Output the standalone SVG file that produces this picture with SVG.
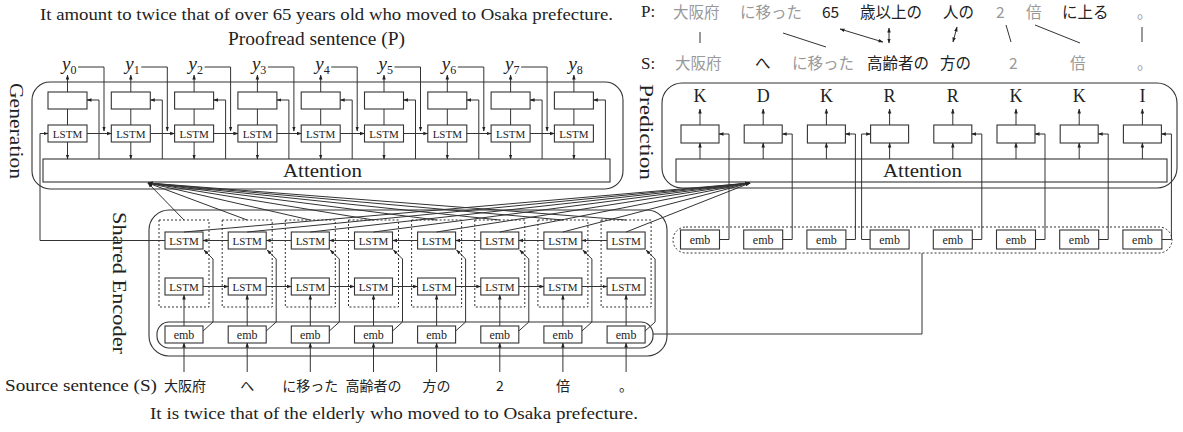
<svg xmlns="http://www.w3.org/2000/svg" width="1183" height="432" viewBox="0 0 1183 432">
<defs>
<marker id="a" viewBox="0 0 10 10" refX="9" refY="5" markerWidth="5" markerHeight="5" orient="auto-start-reverse" markerUnits="userSpaceOnUse"><path d="M0,1.5L10,5L0,8.5z" fill="#222"/></marker>
</defs>
<style>
text{font-family:"Liberation Serif","Times New Roman",serif;fill:#222}
.j{font-family:"Noto Sans CJK JP","Noto Sans",sans-serif;font-size:15.5px}
.js{font-family:"Noto Sans CJK JP","Noto Sans",sans-serif;font-size:14px;text-anchor:middle}
.g{fill:#999}
.box{fill:#fff;stroke:#333;stroke-width:1.1}
.cont{fill:none;stroke:#333;stroke-width:1.1}
.dot{fill:none;stroke:#333;stroke-width:1;stroke-dasharray:2 2}
#connectors path{fill:none;stroke:#333;stroke-width:1}
#connectors .ar{marker-end:url(#a)}
#connectors .dbl{marker-end:url(#a);marker-start:url(#a)}
.lstm{font-size:11px;text-anchor:middle}
.emb{font-size:12px;text-anchor:middle}
.lab{font-size:18px;text-anchor:middle}
.yl{font-size:19px;font-style:italic}
.sub{font-size:12px;font-style:normal}
.att{font-size:19px;text-anchor:middle}
.side{font-size:19px;text-anchor:middle}
</style>

<g id="titles">
<text x="326.5" y="20" text-anchor="middle" font-size="17" textLength="573" lengthAdjust="spacingAndGlyphs">It amount to twice that of over 65 years old who moved to Osaka prefecture.</text>
<text x="316.5" y="45" text-anchor="middle" font-size="18.5" textLength="177" lengthAdjust="spacingAndGlyphs">Proofread sentence (P)</text>
<text x="394" y="419" text-anchor="middle" font-size="17" textLength="488" lengthAdjust="spacingAndGlyphs">It is twice that of the elderly who moved to to Osaka prefecture.</text>
</g>

<g id="alignment">
<text x="641" y="17" font-size="17">P:</text>
<text x="641" y="69" font-size="17">S:</text>
<text class="j g" x="673" y="18.2">大阪府</text>
<text class="j g" x="740" y="18.2">に移った</text>
<text class="j" x="822" y="18.2">65</text>
<text class="j" x="860" y="18.2">歳以上の</text>
<text class="j" x="943" y="18.2">人の</text>
<text class="j g" x="996" y="18.2">2</text>
<text class="j g" x="1026" y="18.2">倍</text>
<text class="j" x="1062" y="18.2">に上る</text>
<text class="j g" x="1137" y="18.2">。</text>
<text class="j g" x="675" y="69">大阪府</text>
<text class="j" x="755" y="69">へ</text>
<text class="j g" x="792" y="69">に移った</text>
<text class="j" x="867" y="69">高齢者の</text>
<text class="j" x="940" y="69">方の</text>
<text class="j g" x="1009" y="69">2</text>
<text class="j g" x="1070" y="69">倍</text>
<text class="j g" x="1137" y="69">。</text>
</g>

<g id="generation">
<rect class="cont" x="32" y="82" width="591" height="107" rx="18"/>
<text class="side" transform="translate(10,131) rotate(90)" textLength="96" lengthAdjust="spacingAndGlyphs">Generation</text>
</g>
<g id="gen-attention">
<rect class="box" x="43" y="159" width="567" height="23"/>
<text class="att" x="322.5" y="177" textLength="79" lengthAdjust="spacingAndGlyphs">Attention</text>
</g>
<g id="gen0"><rect class="box" x="48" y="92" width="39" height="17"/><rect class="box" x="48" y="125" width="39" height="17"/><text class="lstm" x="67.5" y="137.5">LSTM</text><text class="yl" x="62" y="70">y<tspan class="sub" dy="4">0</tspan></text></g>
<g id="gen1"><rect class="box" x="111.3" y="92" width="39" height="17"/><rect class="box" x="111.3" y="125" width="39" height="17"/><text class="lstm" x="130.8" y="137.5">LSTM</text><text class="yl" x="125.3" y="70">y<tspan class="sub" dy="4">1</tspan></text></g>
<g id="gen2"><rect class="box" x="174.6" y="92" width="39" height="17"/><rect class="box" x="174.6" y="125" width="39" height="17"/><text class="lstm" x="194.1" y="137.5">LSTM</text><text class="yl" x="188.6" y="70">y<tspan class="sub" dy="4">2</tspan></text></g>
<g id="gen3"><rect class="box" x="237.9" y="92" width="39" height="17"/><rect class="box" x="237.9" y="125" width="39" height="17"/><text class="lstm" x="257.4" y="137.5">LSTM</text><text class="yl" x="251.9" y="70">y<tspan class="sub" dy="4">3</tspan></text></g>
<g id="gen4"><rect class="box" x="301.2" y="92" width="39" height="17"/><rect class="box" x="301.2" y="125" width="39" height="17"/><text class="lstm" x="320.7" y="137.5">LSTM</text><text class="yl" x="315.2" y="70">y<tspan class="sub" dy="4">4</tspan></text></g>
<g id="gen5"><rect class="box" x="364.5" y="92" width="39" height="17"/><rect class="box" x="364.5" y="125" width="39" height="17"/><text class="lstm" x="384" y="137.5">LSTM</text><text class="yl" x="378.5" y="70">y<tspan class="sub" dy="4">5</tspan></text></g>
<g id="gen6"><rect class="box" x="427.8" y="92" width="39" height="17"/><rect class="box" x="427.8" y="125" width="39" height="17"/><text class="lstm" x="447.3" y="137.5">LSTM</text><text class="yl" x="441.8" y="70">y<tspan class="sub" dy="4">6</tspan></text></g>
<g id="gen7"><rect class="box" x="491.1" y="92" width="39" height="17"/><rect class="box" x="491.1" y="125" width="39" height="17"/><text class="lstm" x="510.6" y="137.5">LSTM</text><text class="yl" x="505.1" y="70">y<tspan class="sub" dy="4">7</tspan></text></g>
<g id="gen8"><rect class="box" x="554.4" y="92" width="39" height="17"/><rect class="box" x="554.4" y="125" width="39" height="17"/><text class="lstm" x="573.9" y="137.5">LSTM</text><text class="yl" x="568.4" y="70">y<tspan class="sub" dy="4">8</tspan></text></g>

<g id="prediction">
<rect class="cont" x="662" y="83" width="515" height="105" rx="20"/>
<text class="side" transform="translate(640,132) rotate(90)" textLength="96" lengthAdjust="spacingAndGlyphs">Prediction</text>
</g>
<g id="pred-attention">
<rect class="box" x="676" y="159" width="491" height="23"/>
<text class="att" x="922.5" y="177" textLength="79" lengthAdjust="spacingAndGlyphs">Attention</text>
</g>
<g id="pred0"><rect class="box" x="681" y="125" width="38" height="18"/><text class="lab" x="700" y="102">K</text></g>
<g id="pred1"><rect class="box" x="744.2" y="125" width="38" height="18"/><text class="lab" x="763.2" y="102">D</text></g>
<g id="pred2"><rect class="box" x="807.4" y="125" width="38" height="18"/><text class="lab" x="826.4" y="102">K</text></g>
<g id="pred3"><rect class="box" x="870.6" y="125" width="38" height="18"/><text class="lab" x="889.6" y="102">R</text></g>
<g id="pred4"><rect class="box" x="933.8" y="125" width="38" height="18"/><text class="lab" x="952.8" y="102">R</text></g>
<g id="pred5"><rect class="box" x="997" y="125" width="38" height="18"/><text class="lab" x="1016" y="102">K</text></g>
<g id="pred6"><rect class="box" x="1060.2" y="125" width="38" height="18"/><text class="lab" x="1079.2" y="102">K</text></g>
<g id="pred7"><rect class="box" x="1123.4" y="125" width="38" height="18"/><text class="lab" x="1142.4" y="102">I</text></g>

<g id="pred-emb">
<rect class="dot" x="673" y="227" width="499" height="26" rx="13"/>
<rect class="box" x="680.5" y="230" width="39" height="19"/><text class="emb" x="700" y="243.5">emb</text>
<rect class="box" x="743.7" y="230" width="39" height="19"/><text class="emb" x="763.2" y="243.5">emb</text>
<rect class="box" x="806.9" y="230" width="39" height="19"/><text class="emb" x="826.4" y="243.5">emb</text>
<rect class="box" x="870.1" y="230" width="39" height="19"/><text class="emb" x="889.6" y="243.5">emb</text>
<rect class="box" x="933.3" y="230" width="39" height="19"/><text class="emb" x="952.8" y="243.5">emb</text>
<rect class="box" x="996.5" y="230" width="39" height="19"/><text class="emb" x="1016" y="243.5">emb</text>
<rect class="box" x="1059.7" y="230" width="39" height="19"/><text class="emb" x="1079.2" y="243.5">emb</text>
<rect class="box" x="1122.9" y="230" width="39" height="19"/><text class="emb" x="1142.4" y="243.5">emb</text>
</g>

<g id="encoder">
<rect class="cont" x="149" y="210" width="518" height="146" rx="20"/>
<text class="side" transform="translate(113,283) rotate(90)" textLength="142" lengthAdjust="spacingAndGlyphs">Shared Encoder</text>
<rect class="cont" x="157" y="322" width="496" height="26" rx="12"/>
</g>
<g id="enc0"><rect class="dot" x="159" y="220" width="50" height="87"/><rect class="box" x="165" y="232" width="38" height="17"/><text class="lstm" x="184" y="244.5">LSTM</text><rect class="box" x="165" y="278" width="38" height="17"/><text class="lstm" x="184" y="290.5">LSTM</text><rect class="box" x="165" y="326" width="38" height="17"/><text class="emb" x="184" y="338.5">emb</text></g>
<g id="enc1"><rect class="dot" x="222.2" y="220" width="50" height="87"/><rect class="box" x="228.2" y="232" width="38" height="17"/><text class="lstm" x="247.2" y="244.5">LSTM</text><rect class="box" x="228.2" y="278" width="38" height="17"/><text class="lstm" x="247.2" y="290.5">LSTM</text><rect class="box" x="228.2" y="326" width="38" height="17"/><text class="emb" x="247.2" y="338.5">emb</text></g>
<g id="enc2"><rect class="dot" x="285.3" y="220" width="50" height="87"/><rect class="box" x="291.3" y="232" width="38" height="17"/><text class="lstm" x="310.3" y="244.5">LSTM</text><rect class="box" x="291.3" y="278" width="38" height="17"/><text class="lstm" x="310.3" y="290.5">LSTM</text><rect class="box" x="291.3" y="326" width="38" height="17"/><text class="emb" x="310.3" y="338.5">emb</text></g>
<g id="enc3"><rect class="dot" x="348.5" y="220" width="50" height="87"/><rect class="box" x="354.5" y="232" width="38" height="17"/><text class="lstm" x="373.5" y="244.5">LSTM</text><rect class="box" x="354.5" y="278" width="38" height="17"/><text class="lstm" x="373.5" y="290.5">LSTM</text><rect class="box" x="354.5" y="326" width="38" height="17"/><text class="emb" x="373.5" y="338.5">emb</text></g>
<g id="enc4"><rect class="dot" x="411.6" y="220" width="50" height="87"/><rect class="box" x="417.6" y="232" width="38" height="17"/><text class="lstm" x="436.6" y="244.5">LSTM</text><rect class="box" x="417.6" y="278" width="38" height="17"/><text class="lstm" x="436.6" y="290.5">LSTM</text><rect class="box" x="417.6" y="326" width="38" height="17"/><text class="emb" x="436.6" y="338.5">emb</text></g>
<g id="enc5"><rect class="dot" x="474.8" y="220" width="50" height="87"/><rect class="box" x="480.8" y="232" width="38" height="17"/><text class="lstm" x="499.8" y="244.5">LSTM</text><rect class="box" x="480.8" y="278" width="38" height="17"/><text class="lstm" x="499.8" y="290.5">LSTM</text><rect class="box" x="480.8" y="326" width="38" height="17"/><text class="emb" x="499.8" y="338.5">emb</text></g>
<g id="enc6"><rect class="dot" x="537.9" y="220" width="50" height="87"/><rect class="box" x="543.9" y="232" width="38" height="17"/><text class="lstm" x="562.9" y="244.5">LSTM</text><rect class="box" x="543.9" y="278" width="38" height="17"/><text class="lstm" x="562.9" y="290.5">LSTM</text><rect class="box" x="543.9" y="326" width="38" height="17"/><text class="emb" x="562.9" y="338.5">emb</text></g>
<g id="enc7"><rect class="dot" x="601.1" y="220" width="50" height="87"/><rect class="box" x="607.1" y="232" width="38" height="17"/><text class="lstm" x="626.1" y="244.5">LSTM</text><rect class="box" x="607.1" y="278" width="38" height="17"/><text class="lstm" x="626.1" y="290.5">LSTM</text><rect class="box" x="607.1" y="326" width="38" height="17"/><text class="emb" x="626.1" y="338.5">emb</text></g>

<g id="source">
<text x="5" y="391" font-size="17" textLength="152" lengthAdjust="spacingAndGlyphs">Source sentence (S)</text>
<text class="js" x="185" y="391">大阪府</text>
<text class="js" x="247.2" y="391">へ</text>
<text class="js" x="310.3" y="391">に移った</text>
<text class="js" x="373.5" y="391">高齢者の</text>
<text class="js" x="436.6" y="391">方の</text>
<text class="js" x="499.8" y="391">2</text>
<text class="js" x="562.9" y="391">倍</text>
<text class="js" x="626.1" y="391">。</text>
</g>

<g id="connectors">
<path d="M700,32V43"/>
<path d="M783,33L826,47"/>
<path class="dbl" d="M840,29L883,42"/>
<path class="dbl" d="M889,28V43"/>
<path class="dbl" d="M957,27L953,42"/>
<path d="M1006,25L1011,42"/>
<path d="M1035,25L1080,43"/>
<path d="M1142,27V42"/>
<path class="ar" d="M67.5,92V75"/><path d="M67.5,125V109"/><path class="ar" d="M67.5,142V159"/><path class="ar" d="M99,159V100H87"/><path class="ar" d="M78,67H104V131"/><path class="ar" d="M87,133.5H111.3"/>
<path class="ar" d="M130.8,92V75"/><path d="M130.8,125V109"/><path class="ar" d="M130.8,142V159"/><path class="ar" d="M162.3,159V100H150.3"/><path class="ar" d="M141.3,67H167.3V131"/><path class="ar" d="M150.3,133.5H174.6"/>
<path class="ar" d="M194.1,92V75"/><path d="M194.1,125V109"/><path class="ar" d="M194.1,142V159"/><path class="ar" d="M225.6,159V100H213.6"/><path class="ar" d="M204.6,67H230.6V131"/><path class="ar" d="M213.6,133.5H237.9"/>
<path class="ar" d="M257.4,92V75"/><path d="M257.4,125V109"/><path class="ar" d="M257.4,142V159"/><path class="ar" d="M288.9,159V100H276.9"/><path class="ar" d="M267.9,67H293.9V131"/><path class="ar" d="M276.9,133.5H301.2"/>
<path class="ar" d="M320.7,92V75"/><path d="M320.7,125V109"/><path class="ar" d="M320.7,142V159"/><path class="ar" d="M352.2,159V100H340.2"/><path class="ar" d="M331.2,67H357.2V131"/><path class="ar" d="M340.2,133.5H364.5"/>
<path class="ar" d="M384,92V75"/><path d="M384,125V109"/><path class="ar" d="M384,142V159"/><path class="ar" d="M415.5,159V100H403.5"/><path class="ar" d="M394.5,67H420.5V131"/><path class="ar" d="M403.5,133.5H427.8"/>
<path class="ar" d="M447.3,92V75"/><path d="M447.3,125V109"/><path class="ar" d="M447.3,142V159"/><path class="ar" d="M478.8,159V100H466.8"/><path class="ar" d="M457.8,67H483.8V131"/><path class="ar" d="M466.8,133.5H491.1"/>
<path class="ar" d="M510.6,92V75"/><path d="M510.6,125V109"/><path class="ar" d="M510.6,142V159"/><path class="ar" d="M542.1,159V100H530.1"/><path class="ar" d="M521.1,67H547.1V131"/><path class="ar" d="M530.1,133.5H554.4"/>
<path class="ar" d="M573.9,92V75"/><path d="M573.9,125V109"/><path class="ar" d="M573.9,142V159"/><path class="ar" d="M605.4,159V100H593.4"/>
<path class="ar" d="M165,240.5H40V133.5H48"/>
<path class="ar" d="M700,125V109"/><path class="ar" d="M700,159V143"/><path class="ar" d="M719.5,239.5H729V134H719"/>
<path class="ar" d="M763.2,125V109"/><path class="ar" d="M763.2,159V143"/><path class="ar" d="M782.7,239.5H792.2V134H782.2"/>
<path class="ar" d="M826.4,125V109"/><path class="ar" d="M826.4,159V143"/><path class="ar" d="M845.9,239.5H855.4V134H845.4"/>
<path class="ar" d="M889.6,125V109"/><path class="ar" d="M889.6,159V143"/><path class="ar" d="M870.1,239.5H861.6V134H870.6"/>
<path class="ar" d="M952.8,125V109"/><path class="ar" d="M952.8,159V143"/><path class="ar" d="M972.3,239.5H981.8V134H971.8"/>
<path class="ar" d="M1016,125V109"/><path class="ar" d="M1016,159V143"/><path class="ar" d="M1035.5,239.5H1045V134H1035"/>
<path class="ar" d="M1079.2,125V109"/><path class="ar" d="M1079.2,159V143"/><path class="ar" d="M1098.7,239.5H1108.2V134H1098.2"/>
<path class="ar" d="M1142.4,125V109"/><path class="ar" d="M1142.4,159V143"/><path class="ar" d="M1161.9,239.5H1171.4V134H1161.4"/>
<path d="M922,253V334H653"/>
<path class="ar" d="M228.2,240.5H203"/><path class="ar" d="M291.3,240.5H266.2"/><path class="ar" d="M354.5,240.5H329.3"/><path class="ar" d="M417.6,240.5H392.5"/><path class="ar" d="M480.8,240.5H455.6"/><path class="ar" d="M543.9,240.5H518.8"/><path class="ar" d="M607.1,240.5H581.9"/>
<path class="ar" d="M203,286.5H228.2"/><path class="ar" d="M266.2,286.5H291.3"/><path class="ar" d="M329.3,286.5H354.5"/><path class="ar" d="M392.5,286.5H417.6"/><path class="ar" d="M455.6,286.5H480.8"/><path class="ar" d="M518.8,286.5H543.9"/><path class="ar" d="M581.9,286.5H607.1"/>
<path class="ar" d="M184,326V295"/><path class="ar" d="M247.2,326V295"/><path class="ar" d="M310.3,326V295"/><path class="ar" d="M373.5,326V295"/><path class="ar" d="M436.6,326V295"/><path class="ar" d="M499.8,326V295"/><path class="ar" d="M562.9,326V295"/><path class="ar" d="M626.1,326V295"/>
<path class="ar" d="M203,331L213,322V259L204,250"/>
<path class="ar" d="M266.2,331L276.2,322V259L267.2,250"/>
<path class="ar" d="M329.3,331L339.3,322V259L330.3,250"/>
<path class="ar" d="M392.5,331L402.5,322V259L393.5,250"/>
<path class="ar" d="M455.6,331L465.6,322V259L456.6,250"/>
<path class="ar" d="M518.8,331L528.8,322V259L519.8,250"/>
<path class="ar" d="M581.9,331L591.9,322V259L582.9,250"/>
<path class="ar" d="M645.1,331L655.1,322V259L646.1,250"/>
<path class="ar" d="M184,372V343"/><path class="ar" d="M247.2,372V343"/><path class="ar" d="M310.3,372V343"/><path class="ar" d="M373.5,372V343"/><path class="ar" d="M436.6,372V343"/><path class="ar" d="M499.8,372V343"/><path class="ar" d="M562.9,372V343"/><path class="ar" d="M626.1,372V343"/>
<path class="ar" d="M184,220L148,183"/><path class="ar" d="M247.2,220L148,183"/><path class="ar" d="M310.3,220L148,183"/><path class="ar" d="M373.5,220L148,183"/><path class="ar" d="M436.6,220L148,183"/><path class="ar" d="M499.8,220L148,183"/><path class="ar" d="M562.9,220L148,183"/><path class="ar" d="M626.1,220L148,183"/>
<path class="ar" d="M184,232L750,183"/><path class="ar" d="M247.2,232L750,183"/><path class="ar" d="M310.3,232L750,183"/><path class="ar" d="M373.5,232L750,183"/><path class="ar" d="M436.6,232L750,183"/><path class="ar" d="M499.8,232L750,183"/><path class="ar" d="M562.9,232L750,183"/><path class="ar" d="M626.1,232L750,183"/>
</g>
</svg>
